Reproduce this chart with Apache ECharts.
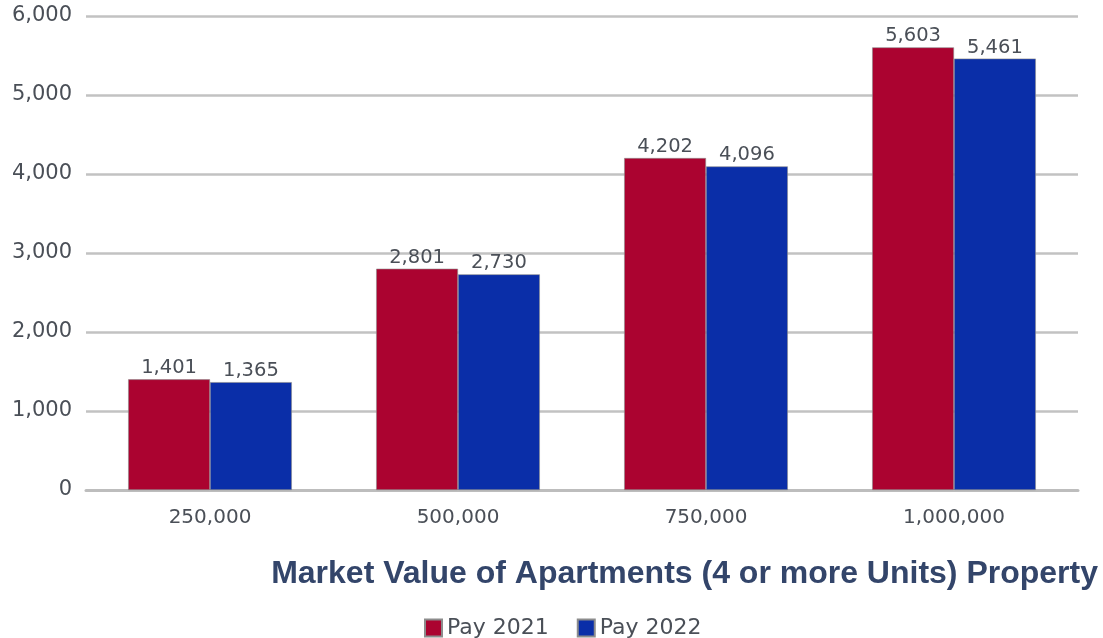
<!DOCTYPE html>
<html>
<head>
<meta charset="utf-8">
<script src="https://cdn.jsdelivr.net/npm/echarts@6/dist/echarts.min.js"></script>
<style>
  html, body { margin: 0; padding: 0; background: #fff; }
  #chart { width: 1103px; height: 638px; }
</style>
</head>
<body>
<div id="chart"></div>
<script>
  // values
  const categories = ['250,000', '500,000', '750,000', '1,000,000'];
  const pay2021 = [1401, 2801, 4202, 5603];
  const pay2022 = [1365, 2730, 4096, 5461];
  const seriesNames = ['Pay 2021', 'Pay 2022'];

  const chart = echarts.init(document.getElementById('chart'));
  const font = 'DejaVu Sans, sans-serif';
  const titleFont = 'Liberation Sans, Arial, sans-serif';

  const labelStyle = {
    show: true,
    position: 'top',
    distance: 1,
    color: '#4a4f57',
    fontSize: 19.5,
    fontFamily: font,
    formatter: p => p.value.toLocaleString('en-US')
  };

  const option = {
    animation: false,
    title: {
      text: 'Market Value of Apartments (4 or more Units) Property',
      right: 0,
      top: 553,
      textStyle: {
        color: '#33456a',
        fontSize: 32,
        fontWeight: 'bold',
        fontFamily: titleFont
      }
    },
    legend: {
      data: seriesNames,
      left: 419,
      top: 612,
      itemWidth: 17,
      itemHeight: 17,
      itemGap: 28,
      icon: 'rect',
      textStyle: {
        color: '#4a4f57',
        fontSize: 22,
        fontFamily: font
      }
    },
    grid: {
      left: 86,
      right: 25,
      top: 16,
      bottom: 148
    },
    xAxis: {
      type: 'category',
      data: categories,
      axisTick: { show: false },
      axisLine: { lineStyle: { color: '#bdbdbd', width: 3 } },
      axisLabel: {
        color: '#4a4f57',
        fontSize: 20,
        margin: 18,
        fontFamily: font
      }
    },
    yAxis: {
      type: 'value',
      min: 0,
      max: 6000,
      interval: 1000,
      axisLine: { show: false },
      axisTick: { show: false },
      splitLine: { lineStyle: { color: '#c2c2c2', width: 2.5 } },
      axisLabel: {
        color: '#4a4f57',
        fontSize: 21,
        margin: 14,
        fontFamily: font,
        formatter: v => v.toLocaleString('en-US')
      }
    },
    series: [
      {
        name: seriesNames[0],
        type: 'bar',
        data: pay2021,
        barGap: '0%',
        barCategoryGap: '34%',
        itemStyle: { color: '#ab0330', borderColor: '#8c8c8c', borderWidth: 0.6 },
        label: labelStyle
      },
      {
        name: seriesNames[1],
        type: 'bar',
        data: pay2022,
        barGap: '0%',
        barCategoryGap: '34%',
        itemStyle: { color: '#0a2ea8', borderColor: '#8c8c8c', borderWidth: 0.6 },
        label: labelStyle
      }
    ]
  };

  chart.setOption(option);
</script>
</body>
</html>
